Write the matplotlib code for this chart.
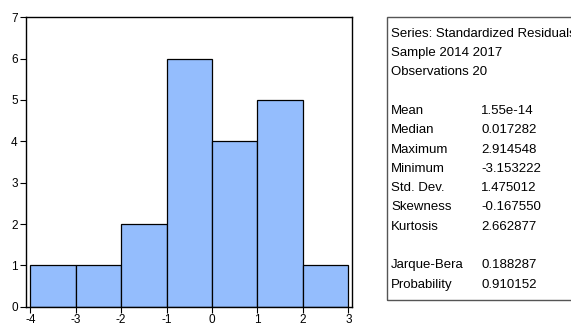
import matplotlib
matplotlib.use("Agg")
import matplotlib.pyplot as plt
from matplotlib.patches import Rectangle

bin_edges = [-4, -3, -2, -1, 0, 1, 2, 3]
counts = [1, 1, 2, 6, 4, 5, 1]
y_ticks = [0, 1, 2, 3, 4, 5, 6, 7]
x_ticks = [-4, -3, -2, -1, 0, 1, 2, 3]

header_lines = ["Series: Standardized Residuals", "Sample 2014 2017", "Observations 20"]
stat_names = ["Mean", "Median", "Maximum", "Minimum", "Std. Dev.", "Skewness", "Kurtosis"]
stat_values = ["1.55e-14", "0.017282", "2.914548", "-3.153222", "1.475012", "-0.167550", "2.662877"]
test_names = ["Jarque-Bera", "Probability"]
test_values = ["0.188287", "0.910152"]

plt.rcParams['font.family'] = ['Liberation Sans', 'DejaVu Sans']
plt.rcParams['axes.unicode_minus'] = False

W, H = 571, 324
fig = plt.figure(figsize=(W / 100, H / 100), dpi=100)
ax = fig.add_axes([26 / W, (H - 306.7) / H, (352 - 26) / W, (306.7 - 17.3) / H])

widths = [bin_edges[i + 1] - bin_edges[i] for i in range(len(counts))]
ax.bar(bin_edges[:-1], counts, width=widths, align='edge',
       color='#94bdfd', edgecolor='black', linewidth=0.9)
ax.set_xlim(-4.095, 3.08)
ax.set_ylim(0, 7)
ax.set_yticks(y_ticks)
ax.set_xticks(x_ticks)
ax.tick_params(direction='out', length=4, width=0.8, labelsize=8.5, pad=2)
ax.tick_params(axis='x', pad=1)
for s in ax.spines.values():
    s.set_linewidth(1.0)
    s.set_color('black')

# stats box
box = Rectangle((387 / W, (H - 300) / H), (600 - 387) / W, (300 - 17.3) / H,
                transform=fig.transFigure, fill=False, edgecolor='#555555',
                linewidth=1.0, clip_on=False)
fig.add_artist(box)

line_h = 19.3
y0 = 33.8
xl = 391 / W
xv = 481 / W
fs = 9.5
row = 0
for t in header_lines:
    fig.text(xl, (H - (y0 + row * line_h)) / H, t, fontsize=fs, va='center', ha='left')
    row += 1
row += 1
for n, v in zip(stat_names, stat_values):
    yy = (H - (y0 + row * line_h)) / H
    fig.text(xl, yy, n, fontsize=fs, va='center', ha='left')
    fig.text(xv, yy, v, fontsize=fs, va='center', ha='left')
    row += 1
row += 1
for n, v in zip(test_names, test_values):
    yy = (H - (y0 + row * line_h)) / H
    fig.text(xl, yy, n, fontsize=fs, va='center', ha='left')
    fig.text(xv, yy, v, fontsize=fs, va='center', ha='left')
    row += 1

fig.savefig("out.png", dpi=100)
